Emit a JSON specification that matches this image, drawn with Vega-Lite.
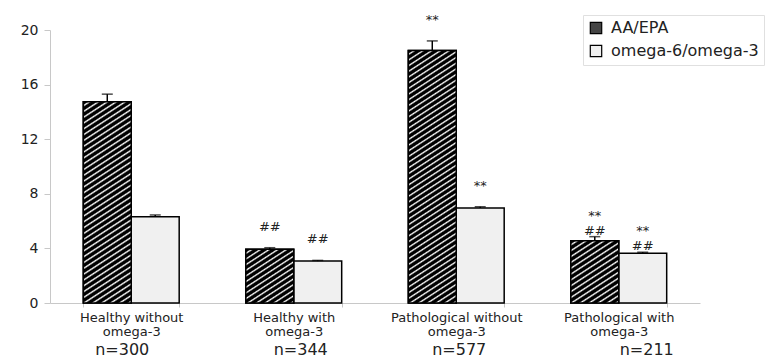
{
 "$schema": "https://vega.github.io/schema/vega-lite/v6.json",
 "width": 650,
 "height": 273,
 "autosize": "none",
 "padding": {"left": 50, "top": 30, "right": 71, "bottom": 55},
 "background": "white",
 "config": {
  "view": {"stroke": null},
  "font": "DejaVu Sans",
  "axisY": {"title": null, "grid": false, "labelFontSize": 14, "labelColor": "#222", "domainColor": "#c8c8c8", "tickColor": "#c8c8c8", "tickSize": 6, "labelPadding": 6}
 },
 "data": {"values": [
  {"group": "Healthy without omega-3", "series": "AA/EPA", "value": 14.75, "upper": 15.3, "note": ""},
  {"group": "Healthy without omega-3", "series": "omega-6/omega-3", "value": 6.32, "upper": 6.45, "note": ""},
  {"group": "Healthy with omega-3", "series": "AA/EPA", "value": 3.93, "upper": 4.05, "note": "##"},
  {"group": "Healthy with omega-3", "series": "omega-6/omega-3", "value": 3.07, "upper": 3.12, "note": "##"},
  {"group": "Pathological without omega-3", "series": "AA/EPA", "value": 18.5, "upper": 19.2, "note": "**"},
  {"group": "Pathological without omega-3", "series": "omega-6/omega-3", "value": 6.96, "upper": 7.05, "note": "**"},
  {"group": "Pathological with omega-3", "series": "AA/EPA", "value": 4.56, "upper": 4.86, "note": "**\n##"},
  {"group": "Pathological with omega-3", "series": "omega-6/omega-3", "value": 3.64, "upper": 3.72, "note": "**\n##"}
 ]},
 "resolve": {"scale": {"x": "shared", "y": "shared"}, "axis": {"x": "independent", "y": "shared"}},
 "layer": [
  {
   "mark": {"type": "bar", "stroke": "black", "strokeWidth": 1.5},
   "encoding": {
    "x": {"field": "group", "type": "nominal", "sort": null,
     "scale": {"paddingInner": 0.41, "paddingOuter": 0.205},
     "axis": {"title": null, "orient": "bottom", "labelAngle": 0, "labelExpr": "!datum.label ? '' : [replace(datum.label, ' omega-3', ''), 'omega-3']", "labelFontSize": 13, "labelLineHeight": 14, "labelColor": "#222", "domainColor": "#c8c8c8", "tickColor": "#c8c8c8", "tickSize": 4, "tickBand": "extent", "labelPadding": 4}},
    "xOffset": {"field": "series", "type": "nominal", "sort": null, "scale": {"paddingInner": 0, "paddingOuter": 0}},
    "y": {"field": "value", "type": "quantitative", "title": null, "scale": {"domain": [0, 20], "nice": false},
     "axis": {"title": null, "orient": "left", "values": [0, 4, 8, 12, 16, 20]}},
    "fill": {"field": "series", "type": "nominal", "sort": null,
     "scale": {"range": ["#444444", "#f0f0f0"]},
     "legend": {"title": null, "orient": "none", "legendX": 533, "legendY": -15, "symbolType": "square", "symbolSize": 130, "symbolStrokeColor": "black", "symbolStrokeWidth": 1.2, "labelFontSize": 16, "labelColor": "#222", "strokeColor": "#e0e0e0", "fillColor": "white", "padding": 5, "rowPadding": 5, "labelOffset": 7}}
   }
  },
  {
   "transform": [{"filter": "datum.series === 'AA/EPA'"}],
   "mark": {"type": "bar", "stroke": "black", "strokeWidth": 1.5},
   "encoding": {
    "x": {"field": "group", "type": "nominal", "sort": null, "axis": null},
    "xOffset": {"field": "series", "type": "nominal", "sort": null},
    "y": {"field": "value", "type": "quantitative", "title": null, "axis": {"title": null, "orient": "left", "values": [0, 4, 8, 12, 16, 20]}},
    "fill": {"condition": [
     {"test": "datum.group === 'Healthy without omega-3'", "value": {"gradient": "linear", "x1": 0, "y1": 0, "x2": 0.1748, "y2": 1.1279, "stops": [
      {"offset": 0, "color": "#000"}, {"offset": 0.011, "color": "#000"}, {"offset": 0.0175, "color": "#fff"},
      {"offset": 0.025, "color": "#000"}, {"offset": 0.036, "color": "#000"}, {"offset": 0.0425, "color": "#fff"},
      {"offset": 0.05, "color": "#000"}, {"offset": 0.061, "color": "#000"}, {"offset": 0.0675, "color": "#fff"},
      {"offset": 0.075, "color": "#000"}, {"offset": 0.086, "color": "#000"}, {"offset": 0.0925, "color": "#fff"},
      {"offset": 0.1, "color": "#000"}, {"offset": 0.111, "color": "#000"}, {"offset": 0.1175, "color": "#fff"},
      {"offset": 0.125, "color": "#000"}, {"offset": 0.136, "color": "#000"}, {"offset": 0.1425, "color": "#fff"},
      {"offset": 0.15, "color": "#000"}, {"offset": 0.161, "color": "#000"}, {"offset": 0.1675, "color": "#fff"},
      {"offset": 0.175, "color": "#000"}, {"offset": 0.186, "color": "#000"}, {"offset": 0.1925, "color": "#fff"},
      {"offset": 0.2, "color": "#000"}, {"offset": 0.211, "color": "#000"}, {"offset": 0.2175, "color": "#fff"},
      {"offset": 0.225, "color": "#000"}, {"offset": 0.236, "color": "#000"}, {"offset": 0.2425, "color": "#fff"},
      {"offset": 0.25, "color": "#000"}, {"offset": 0.261, "color": "#000"}, {"offset": 0.2675, "color": "#fff"},
      {"offset": 0.275, "color": "#000"}, {"offset": 0.286, "color": "#000"}, {"offset": 0.2925, "color": "#fff"},
      {"offset": 0.3, "color": "#000"}, {"offset": 0.311, "color": "#000"}, {"offset": 0.3175, "color": "#fff"},
      {"offset": 0.325, "color": "#000"}, {"offset": 0.336, "color": "#000"}, {"offset": 0.3425, "color": "#fff"},
      {"offset": 0.35, "color": "#000"}, {"offset": 0.361, "color": "#000"}, {"offset": 0.3675, "color": "#fff"},
      {"offset": 0.375, "color": "#000"}, {"offset": 0.386, "color": "#000"}, {"offset": 0.3925, "color": "#fff"},
      {"offset": 0.4, "color": "#000"}, {"offset": 0.411, "color": "#000"}, {"offset": 0.4175, "color": "#fff"},
      {"offset": 0.425, "color": "#000"}, {"offset": 0.436, "color": "#000"}, {"offset": 0.4425, "color": "#fff"},
      {"offset": 0.45, "color": "#000"}, {"offset": 0.461, "color": "#000"}, {"offset": 0.4675, "color": "#fff"},
      {"offset": 0.475, "color": "#000"}, {"offset": 0.486, "color": "#000"}, {"offset": 0.4925, "color": "#fff"},
      {"offset": 0.5, "color": "#000"}, {"offset": 0.511, "color": "#000"}, {"offset": 0.5175, "color": "#fff"},
      {"offset": 0.525, "color": "#000"}, {"offset": 0.536, "color": "#000"}, {"offset": 0.5425, "color": "#fff"},
      {"offset": 0.55, "color": "#000"}, {"offset": 0.561, "color": "#000"}, {"offset": 0.5675, "color": "#fff"},
      {"offset": 0.575, "color": "#000"}, {"offset": 0.586, "color": "#000"}, {"offset": 0.5925, "color": "#fff"},
      {"offset": 0.6, "color": "#000"}, {"offset": 0.611, "color": "#000"}, {"offset": 0.6175, "color": "#fff"},
      {"offset": 0.625, "color": "#000"}, {"offset": 0.636, "color": "#000"}, {"offset": 0.6425, "color": "#fff"},
      {"offset": 0.65, "color": "#000"}, {"offset": 0.661, "color": "#000"}, {"offset": 0.6675, "color": "#fff"},
      {"offset": 0.675, "color": "#000"}, {"offset": 0.686, "color": "#000"}, {"offset": 0.6925, "color": "#fff"},
      {"offset": 0.7, "color": "#000"}, {"offset": 0.711, "color": "#000"}, {"offset": 0.7175, "color": "#fff"},
      {"offset": 0.725, "color": "#000"}, {"offset": 0.736, "color": "#000"}, {"offset": 0.7425, "color": "#fff"},
      {"offset": 0.75, "color": "#000"}, {"offset": 0.761, "color": "#000"}, {"offset": 0.7675, "color": "#fff"},
      {"offset": 0.775, "color": "#000"}, {"offset": 0.786, "color": "#000"}, {"offset": 0.7925, "color": "#fff"},
      {"offset": 0.8, "color": "#000"}, {"offset": 0.811, "color": "#000"}, {"offset": 0.8175, "color": "#fff"},
      {"offset": 0.825, "color": "#000"}, {"offset": 0.836, "color": "#000"}, {"offset": 0.8425, "color": "#fff"},
      {"offset": 0.85, "color": "#000"}, {"offset": 0.861, "color": "#000"}, {"offset": 0.8675, "color": "#fff"},
      {"offset": 0.875, "color": "#000"}, {"offset": 0.886, "color": "#000"}, {"offset": 0.8925, "color": "#fff"},
      {"offset": 0.9, "color": "#000"}, {"offset": 0.911, "color": "#000"}, {"offset": 0.9175, "color": "#fff"},
      {"offset": 0.925, "color": "#000"}, {"offset": 0.936, "color": "#000"}, {"offset": 0.9425, "color": "#fff"},
      {"offset": 0.95, "color": "#000"}, {"offset": 0.961, "color": "#000"}, {"offset": 0.9675, "color": "#fff"},
      {"offset": 0.975, "color": "#000"}, {"offset": 0.986, "color": "#000"}, {"offset": 0.9925, "color": "#fff"},
      {"offset": 1, "color": "#000"}
     ]}},
     {"test": "datum.group === 'Healthy with omega-3'", "value": {"gradient": "linear", "x1": 0, "y1": 0, "x2": 0.688, "y2": 1.182, "stops": [
      {"offset": 0, "color": "#000"}, {"offset": 0.03, "color": "#000"}, {"offset": 0.0467, "color": "#fff"},
      {"offset": 0.0667, "color": "#000"}, {"offset": 0.0967, "color": "#000"}, {"offset": 0.1133, "color": "#fff"},
      {"offset": 0.1333, "color": "#000"}, {"offset": 0.1633, "color": "#000"}, {"offset": 0.18, "color": "#fff"},
      {"offset": 0.2, "color": "#000"}, {"offset": 0.23, "color": "#000"}, {"offset": 0.2467, "color": "#fff"},
      {"offset": 0.2667, "color": "#000"}, {"offset": 0.2967, "color": "#000"}, {"offset": 0.3133, "color": "#fff"},
      {"offset": 0.3333, "color": "#000"}, {"offset": 0.3633, "color": "#000"}, {"offset": 0.38, "color": "#fff"},
      {"offset": 0.4, "color": "#000"}, {"offset": 0.43, "color": "#000"}, {"offset": 0.4467, "color": "#fff"},
      {"offset": 0.4667, "color": "#000"}, {"offset": 0.4967, "color": "#000"}, {"offset": 0.5133, "color": "#fff"},
      {"offset": 0.5333, "color": "#000"}, {"offset": 0.5633, "color": "#000"}, {"offset": 0.58, "color": "#fff"},
      {"offset": 0.6, "color": "#000"}, {"offset": 0.63, "color": "#000"}, {"offset": 0.6467, "color": "#fff"},
      {"offset": 0.6667, "color": "#000"}, {"offset": 0.6967, "color": "#000"}, {"offset": 0.7133, "color": "#fff"},
      {"offset": 0.7333, "color": "#000"}, {"offset": 0.7633, "color": "#000"}, {"offset": 0.78, "color": "#fff"},
      {"offset": 0.8, "color": "#000"}, {"offset": 0.83, "color": "#000"}, {"offset": 0.8467, "color": "#fff"},
      {"offset": 0.8667, "color": "#000"}, {"offset": 0.8967, "color": "#000"}, {"offset": 0.9133, "color": "#fff"},
      {"offset": 0.9333, "color": "#000"}, {"offset": 0.9633, "color": "#000"}, {"offset": 0.98, "color": "#fff"},
      {"offset": 1, "color": "#000"}
     ]}},
     {"test": "datum.group === 'Pathological without omega-3'", "value": {"gradient": "linear", "x1": 0, "y1": 0, "x2": 0.1368, "y2": 1.1067, "stops": [
      {"offset": 0, "color": "#000"}, {"offset": 0.009, "color": "#000"}, {"offset": 0.014, "color": "#fff"},
      {"offset": 0.02, "color": "#000"}, {"offset": 0.029, "color": "#000"}, {"offset": 0.034, "color": "#fff"},
      {"offset": 0.04, "color": "#000"}, {"offset": 0.049, "color": "#000"}, {"offset": 0.054, "color": "#fff"},
      {"offset": 0.06, "color": "#000"}, {"offset": 0.069, "color": "#000"}, {"offset": 0.074, "color": "#fff"},
      {"offset": 0.08, "color": "#000"}, {"offset": 0.089, "color": "#000"}, {"offset": 0.094, "color": "#fff"},
      {"offset": 0.1, "color": "#000"}, {"offset": 0.109, "color": "#000"}, {"offset": 0.114, "color": "#fff"},
      {"offset": 0.12, "color": "#000"}, {"offset": 0.129, "color": "#000"}, {"offset": 0.134, "color": "#fff"},
      {"offset": 0.14, "color": "#000"}, {"offset": 0.149, "color": "#000"}, {"offset": 0.154, "color": "#fff"},
      {"offset": 0.16, "color": "#000"}, {"offset": 0.169, "color": "#000"}, {"offset": 0.174, "color": "#fff"},
      {"offset": 0.18, "color": "#000"}, {"offset": 0.189, "color": "#000"}, {"offset": 0.194, "color": "#fff"},
      {"offset": 0.2, "color": "#000"}, {"offset": 0.209, "color": "#000"}, {"offset": 0.214, "color": "#fff"},
      {"offset": 0.22, "color": "#000"}, {"offset": 0.229, "color": "#000"}, {"offset": 0.234, "color": "#fff"},
      {"offset": 0.24, "color": "#000"}, {"offset": 0.249, "color": "#000"}, {"offset": 0.254, "color": "#fff"},
      {"offset": 0.26, "color": "#000"}, {"offset": 0.269, "color": "#000"}, {"offset": 0.274, "color": "#fff"},
      {"offset": 0.28, "color": "#000"}, {"offset": 0.289, "color": "#000"}, {"offset": 0.294, "color": "#fff"},
      {"offset": 0.3, "color": "#000"}, {"offset": 0.309, "color": "#000"}, {"offset": 0.314, "color": "#fff"},
      {"offset": 0.32, "color": "#000"}, {"offset": 0.329, "color": "#000"}, {"offset": 0.334, "color": "#fff"},
      {"offset": 0.34, "color": "#000"}, {"offset": 0.349, "color": "#000"}, {"offset": 0.354, "color": "#fff"},
      {"offset": 0.36, "color": "#000"}, {"offset": 0.369, "color": "#000"}, {"offset": 0.374, "color": "#fff"},
      {"offset": 0.38, "color": "#000"}, {"offset": 0.389, "color": "#000"}, {"offset": 0.394, "color": "#fff"},
      {"offset": 0.4, "color": "#000"}, {"offset": 0.409, "color": "#000"}, {"offset": 0.414, "color": "#fff"},
      {"offset": 0.42, "color": "#000"}, {"offset": 0.429, "color": "#000"}, {"offset": 0.434, "color": "#fff"},
      {"offset": 0.44, "color": "#000"}, {"offset": 0.449, "color": "#000"}, {"offset": 0.454, "color": "#fff"},
      {"offset": 0.46, "color": "#000"}, {"offset": 0.469, "color": "#000"}, {"offset": 0.474, "color": "#fff"},
      {"offset": 0.48, "color": "#000"}, {"offset": 0.489, "color": "#000"}, {"offset": 0.494, "color": "#fff"},
      {"offset": 0.5, "color": "#000"}, {"offset": 0.509, "color": "#000"}, {"offset": 0.514, "color": "#fff"},
      {"offset": 0.52, "color": "#000"}, {"offset": 0.529, "color": "#000"}, {"offset": 0.534, "color": "#fff"},
      {"offset": 0.54, "color": "#000"}, {"offset": 0.549, "color": "#000"}, {"offset": 0.554, "color": "#fff"},
      {"offset": 0.56, "color": "#000"}, {"offset": 0.569, "color": "#000"}, {"offset": 0.574, "color": "#fff"},
      {"offset": 0.58, "color": "#000"}, {"offset": 0.589, "color": "#000"}, {"offset": 0.594, "color": "#fff"},
      {"offset": 0.6, "color": "#000"}, {"offset": 0.609, "color": "#000"}, {"offset": 0.614, "color": "#fff"},
      {"offset": 0.62, "color": "#000"}, {"offset": 0.629, "color": "#000"}, {"offset": 0.634, "color": "#fff"},
      {"offset": 0.64, "color": "#000"}, {"offset": 0.649, "color": "#000"}, {"offset": 0.654, "color": "#fff"},
      {"offset": 0.66, "color": "#000"}, {"offset": 0.669, "color": "#000"}, {"offset": 0.674, "color": "#fff"},
      {"offset": 0.68, "color": "#000"}, {"offset": 0.689, "color": "#000"}, {"offset": 0.694, "color": "#fff"},
      {"offset": 0.7, "color": "#000"}, {"offset": 0.709, "color": "#000"}, {"offset": 0.714, "color": "#fff"},
      {"offset": 0.72, "color": "#000"}, {"offset": 0.729, "color": "#000"}, {"offset": 0.734, "color": "#fff"},
      {"offset": 0.74, "color": "#000"}, {"offset": 0.749, "color": "#000"}, {"offset": 0.754, "color": "#fff"},
      {"offset": 0.76, "color": "#000"}, {"offset": 0.769, "color": "#000"}, {"offset": 0.774, "color": "#fff"},
      {"offset": 0.78, "color": "#000"}, {"offset": 0.789, "color": "#000"}, {"offset": 0.794, "color": "#fff"},
      {"offset": 0.8, "color": "#000"}, {"offset": 0.809, "color": "#000"}, {"offset": 0.814, "color": "#fff"},
      {"offset": 0.82, "color": "#000"}, {"offset": 0.829, "color": "#000"}, {"offset": 0.834, "color": "#fff"},
      {"offset": 0.84, "color": "#000"}, {"offset": 0.849, "color": "#000"}, {"offset": 0.854, "color": "#fff"},
      {"offset": 0.86, "color": "#000"}, {"offset": 0.869, "color": "#000"}, {"offset": 0.874, "color": "#fff"},
      {"offset": 0.88, "color": "#000"}, {"offset": 0.889, "color": "#000"}, {"offset": 0.894, "color": "#fff"},
      {"offset": 0.9, "color": "#000"}, {"offset": 0.909, "color": "#000"}, {"offset": 0.914, "color": "#fff"},
      {"offset": 0.92, "color": "#000"}, {"offset": 0.929, "color": "#000"}, {"offset": 0.934, "color": "#fff"},
      {"offset": 0.94, "color": "#000"}, {"offset": 0.949, "color": "#000"}, {"offset": 0.954, "color": "#fff"},
      {"offset": 0.96, "color": "#000"}, {"offset": 0.969, "color": "#000"}, {"offset": 0.974, "color": "#fff"},
      {"offset": 0.98, "color": "#000"}, {"offset": 0.989, "color": "#000"}, {"offset": 0.994, "color": "#fff"},
      {"offset": 1, "color": "#000"}
     ]}}
    ],
    "value": {"gradient": "linear", "x1": 0, "y1": 0, "x2": 0.602, "y2": 1.2, "stops": [
      {"offset": 0, "color": "#000"}, {"offset": 0.028, "color": "#000"}, {"offset": 0.044, "color": "#fff"},
      {"offset": 0.0625, "color": "#000"}, {"offset": 0.0905, "color": "#000"}, {"offset": 0.1065, "color": "#fff"},
      {"offset": 0.125, "color": "#000"}, {"offset": 0.153, "color": "#000"}, {"offset": 0.169, "color": "#fff"},
      {"offset": 0.1875, "color": "#000"}, {"offset": 0.2155, "color": "#000"}, {"offset": 0.2315, "color": "#fff"},
      {"offset": 0.25, "color": "#000"}, {"offset": 0.278, "color": "#000"}, {"offset": 0.294, "color": "#fff"},
      {"offset": 0.3125, "color": "#000"}, {"offset": 0.3405, "color": "#000"}, {"offset": 0.3565, "color": "#fff"},
      {"offset": 0.375, "color": "#000"}, {"offset": 0.403, "color": "#000"}, {"offset": 0.419, "color": "#fff"},
      {"offset": 0.4375, "color": "#000"}, {"offset": 0.4655, "color": "#000"}, {"offset": 0.4815, "color": "#fff"},
      {"offset": 0.5, "color": "#000"}, {"offset": 0.528, "color": "#000"}, {"offset": 0.544, "color": "#fff"},
      {"offset": 0.5625, "color": "#000"}, {"offset": 0.5905, "color": "#000"}, {"offset": 0.6065, "color": "#fff"},
      {"offset": 0.625, "color": "#000"}, {"offset": 0.653, "color": "#000"}, {"offset": 0.669, "color": "#fff"},
      {"offset": 0.6875, "color": "#000"}, {"offset": 0.7155, "color": "#000"}, {"offset": 0.7315, "color": "#fff"},
      {"offset": 0.75, "color": "#000"}, {"offset": 0.778, "color": "#000"}, {"offset": 0.794, "color": "#fff"},
      {"offset": 0.8125, "color": "#000"}, {"offset": 0.8405, "color": "#000"}, {"offset": 0.8565, "color": "#fff"},
      {"offset": 0.875, "color": "#000"}, {"offset": 0.903, "color": "#000"}, {"offset": 0.919, "color": "#fff"},
      {"offset": 0.9375, "color": "#000"}, {"offset": 0.9655, "color": "#000"}, {"offset": 0.9815, "color": "#fff"},
      {"offset": 1, "color": "#000"}
    ]}}
   }
  },
  {
   "mark": {"type": "rule", "color": "black", "strokeWidth": 1.5},
   "encoding": {
    "x": {"field": "group", "type": "nominal", "sort": null, "axis": null},
    "xOffset": {"field": "series", "type": "nominal", "sort": null},
    "y": {"field": "value", "type": "quantitative", "title": null, "axis": {"title": null, "orient": "left", "values": [0, 4, 8, 12, 16, 20]}},
    "y2": {"field": "upper"}
   }
  },
  {
   "mark": {"type": "tick", "color": "black", "size": 11, "thickness": 1.5},
   "encoding": {
    "x": {"field": "group", "type": "nominal", "sort": null, "axis": null},
    "xOffset": {"field": "series", "type": "nominal", "sort": null},
    "y": {"field": "upper", "type": "quantitative", "title": null, "axis": {"title": null, "orient": "left", "values": [0, 4, 8, 12, 16, 20]}}
   }
  },
  {
   "mark": {"type": "text", "baseline": "bottom", "dy": -14, "fontSize": 13, "lineBreak": "\n", "lineHeight": 15, "color": "#222"},
   "encoding": {
    "x": {"field": "group", "type": "nominal", "sort": null,
     "axis": {"title": null, "orient": "bottom", "labelAngle": 0, "ticks": false, "domain": false, "labelPadding": 46, "labelBaseline": "middle", "labelFontSize": 16, "labelColor": "#222",
      "labelExpr": "datum.label == 'Healthy without omega-3' ? 'n=300' : datum.label == 'Healthy with omega-3' ? 'n=344' : datum.label == 'Pathological without omega-3' ? 'n=577' : 'n=211'",
      "labelOffset": {"condition": [
       {"test": "datum.value == 'Healthy without omega-3'", "value": -9},
       {"test": "datum.value == 'Healthy with omega-3'", "value": 7},
       {"test": "datum.value == 'Pathological without omega-3'", "value": 3}
      ], "value": 28}}},
    "xOffset": {"field": "series", "type": "nominal", "sort": null},
    "y": {"field": "upper", "type": "quantitative", "title": null, "axis": {"title": null, "orient": "left", "values": [0, 4, 8, 12, 16, 20]}},
    "text": {"field": "note"}
   }
  }
 ]
}
